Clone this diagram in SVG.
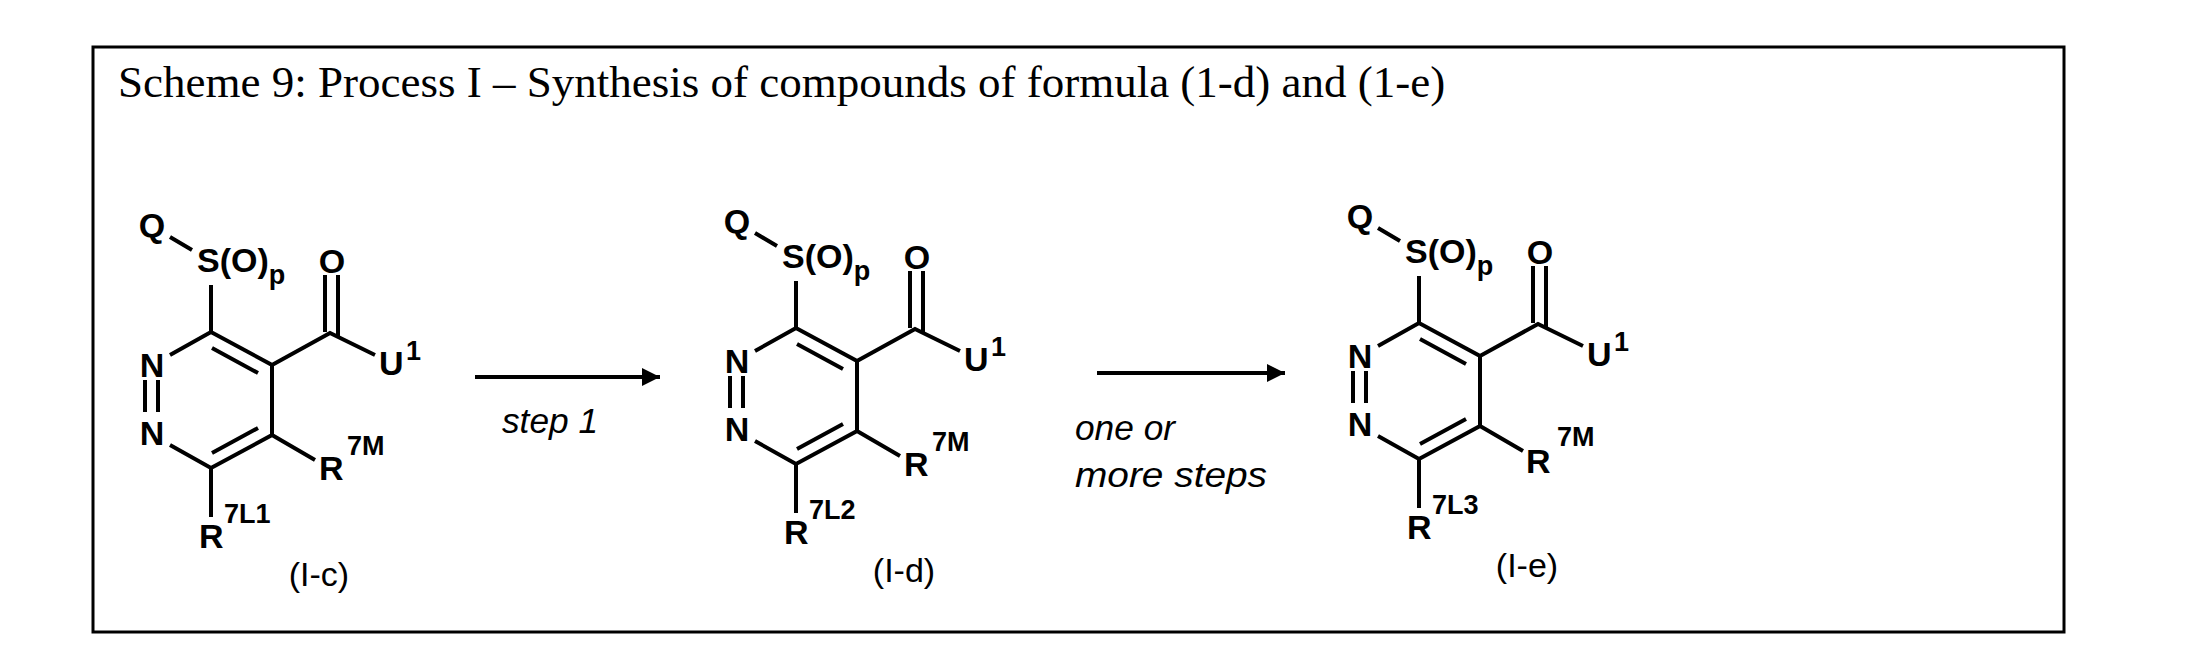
<svg xmlns="http://www.w3.org/2000/svg" width="2187" height="671" viewBox="0 0 2187 671">
<style>
.b{stroke:#000;stroke-width:4;fill:none;stroke-linecap:butt}
.t{font-family:"Liberation Sans",Arial,sans-serif;font-size:34px;font-weight:bold;fill:#000}
.s{font-family:"Liberation Sans",Arial,sans-serif;font-size:27px;font-weight:bold;fill:#000}
.l{font-family:"Liberation Sans",Arial,sans-serif;font-size:34px;fill:#000}
.i{font-family:"Liberation Sans",Arial,sans-serif;font-size:35px;font-style:italic;fill:#000}
.ti{font-family:"Liberation Serif","Times New Roman",serif;font-size:45px;fill:#000}
</style>
<defs>
<g id="core" class="b">
<path d="M170,237L192,250M211,285V332M170,355L211,332L272,365V435L211,468L170,445M212,348L258,373M258,428L212,453M211,468V517M272,435L315,460M145,380V412M158,380V412M272,365L330,333L375,355M325,275V332M338,275V336"/>
</g>
<marker id="ah" viewBox="0 0 10 10" refX="10" refY="5" markerWidth="7" markerHeight="4.5" markerUnits="strokeWidth" orient="auto"><path d="M0,0L10,5L0,10Z" fill="#000"/></marker>
</defs>
<rect x="93" y="47" width="1971" height="585" fill="none" stroke="#000" stroke-width="3"/>
<text class="ti" x="118" y="97">Scheme 9: Process I – Synthesis of compounds of formula (1-d) and (1-e)</text>
<g id="c1">
<use href="#core"/>
<text class="t" x="152" y="237" text-anchor="middle">Q</text>
<text class="t" x="197" y="272">S(O)<tspan class="s" dy="12">p</tspan></text>
<text class="t" x="332" y="273" text-anchor="middle">O</text>
<text class="t" x="152" y="377" text-anchor="middle">N</text>
<text class="t" x="152" y="445" text-anchor="middle">N</text>
<text class="t" x="379" y="375">U</text><text class="s" x="406" y="360">1</text>
<text class="t" x="319" y="480">R</text><text class="s" x="347" y="455">7M</text>
<text class="t" x="199" y="548">R</text><text class="s" x="224" y="523">7L1</text>
<text class="l" x="319" y="586" text-anchor="middle">(I-c)</text>
</g>
<g id="c2" transform="translate(585,-4)">
<use href="#core"/>
<text class="t" x="152" y="237" text-anchor="middle">Q</text>
<text class="t" x="197" y="272">S(O)<tspan class="s" dy="12">p</tspan></text>
<text class="t" x="332" y="273" text-anchor="middle">O</text>
<text class="t" x="152" y="377" text-anchor="middle">N</text>
<text class="t" x="152" y="445" text-anchor="middle">N</text>
<text class="t" x="379" y="375">U</text><text class="s" x="406" y="360">1</text>
<text class="t" x="319" y="480">R</text><text class="s" x="347" y="455">7M</text>
<text class="t" x="199" y="548">R</text><text class="s" x="224" y="523">7L2</text>
<text class="l" x="319" y="586" text-anchor="middle">(I-d)</text>
</g>
<g id="c3" transform="translate(1208,-9)">
<use href="#core"/>
<text class="t" x="152" y="237" text-anchor="middle">Q</text>
<text class="t" x="197" y="272">S(O)<tspan class="s" dy="12">p</tspan></text>
<text class="t" x="332" y="273" text-anchor="middle">O</text>
<text class="t" x="152" y="377" text-anchor="middle">N</text>
<text class="t" x="152" y="445" text-anchor="middle">N</text>
<text class="t" x="379" y="375">U</text><text class="s" x="406" y="360">1</text>
<text class="t" x="318" y="482" font-size="39">R</text><text class="s" x="349" y="455">7M</text>
<text class="t" x="199" y="548">R</text><text class="s" x="224" y="523">7L3</text>
<text class="l" x="319" y="586" text-anchor="middle">(I-e)</text>
</g>
<g id="connectors">
<line class="b" x1="475" y1="377" x2="660" y2="377" marker-end="url(#ah)"/>
<line class="b" x1="1097" y1="373" x2="1285" y2="373" marker-end="url(#ah)"/>
<text class="i" x="502" y="433" textLength="96" lengthAdjust="spacingAndGlyphs">step 1</text>
<text class="i" x="1075" y="440" textLength="100" lengthAdjust="spacingAndGlyphs">one or</text>
<text class="i" x="1075" y="487" textLength="192" lengthAdjust="spacingAndGlyphs">more steps</text>
</g>
</svg>
